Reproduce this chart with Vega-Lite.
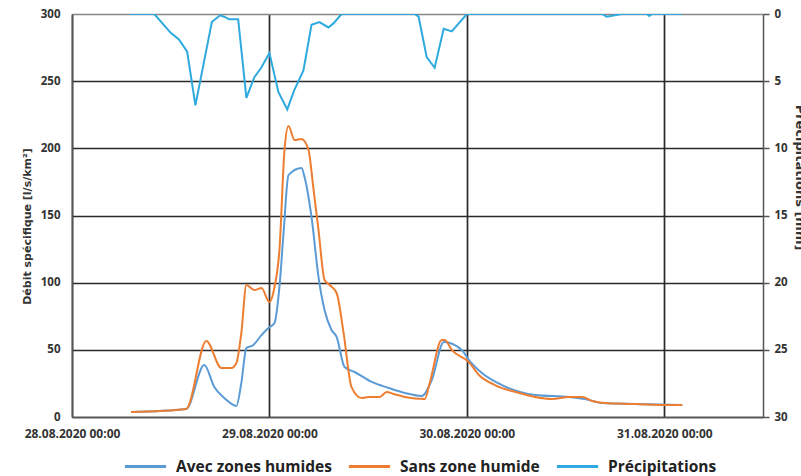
{
  "$schema": "https://vega.github.io/schema/vega-lite/v6.json",
  "autosize": {"type": "none"},
  "padding": {"left": 72, "top": 14, "right": 38, "bottom": 59},
  "width": 691,
  "height": 403,
  "config": {
    "font": "Open Sans",
    "view": {"stroke": null},
    "axis": {"labelFont": "Open Sans", "labelFontWeight": "bold", "labelColor": "#333", "titleFont": "DejaVu Sans", "titleFontWeight": "bold", "titleColor": "#333"}
  },
  "datasets": {
    "flow": [
      {"t": "2020-08-28T07:11", "v": 3.7, "s": "Avec zones humides"},
      {"t": "2020-08-28T13:53", "v": 6.0, "s": "Avec zones humides"},
      {"t": "2020-08-28T16:05", "v": 38.7, "s": "Avec zones humides"},
      {"t": "2020-08-28T17:18", "v": 22.3, "s": "Avec zones humides"},
      {"t": "2020-08-28T18:31", "v": 14.1, "s": "Avec zones humides"},
      {"t": "2020-08-28T19:59", "v": 8.2, "s": "Avec zones humides"},
      {"t": "2020-08-28T20:35", "v": 25.3, "s": "Avec zones humides"},
      {"t": "2020-08-28T21:12", "v": 51.4, "s": "Avec zones humides"},
      {"t": "2020-08-28T22:03", "v": 53.6, "s": "Avec zones humides"},
      {"t": "2020-08-28T23:02", "v": 61.0, "s": "Avec zones humides"},
      {"t": "2020-08-28T23:53", "v": 66.3, "s": "Avec zones humides"},
      {"t": "2020-08-29T00:37", "v": 70.0, "s": "Avec zones humides"},
      {"t": "2020-08-29T01:13", "v": 96.8, "s": "Avec zones humides"},
      {"t": "2020-08-29T01:43", "v": 137.0, "s": "Avec zones humides"},
      {"t": "2020-08-29T02:19", "v": 180.1, "s": "Avec zones humides"},
      {"t": "2020-08-29T03:54", "v": 185.4, "s": "Avec zones humides"},
      {"t": "2020-08-29T04:16", "v": 178.7, "s": "Avec zones humides"},
      {"t": "2020-08-29T05:07", "v": 148.9, "s": "Avec zones humides"},
      {"t": "2020-08-29T05:58", "v": 104.2, "s": "Avec zones humides"},
      {"t": "2020-08-29T06:42", "v": 79.7, "s": "Avec zones humides"},
      {"t": "2020-08-29T07:33", "v": 64.8, "s": "Avec zones humides"},
      {"t": "2020-08-29T08:10", "v": 59.6, "s": "Avec zones humides"},
      {"t": "2020-08-29T09:08", "v": 37.2, "s": "Avec zones humides"},
      {"t": "2020-08-29T10:21", "v": 33.5, "s": "Avec zones humides"},
      {"t": "2020-08-29T12:26", "v": 26.1, "s": "Avec zones humides"},
      {"t": "2020-08-29T14:30", "v": 21.6, "s": "Avec zones humides"},
      {"t": "2020-08-29T16:27", "v": 17.9, "s": "Avec zones humides"},
      {"t": "2020-08-29T18:31", "v": 15.6, "s": "Avec zones humides"},
      {"t": "2020-08-29T19:44", "v": 27.5, "s": "Avec zones humides"},
      {"t": "2020-08-29T21:12", "v": 55.8, "s": "Avec zones humides"},
      {"t": "2020-08-29T23:23", "v": 49.9, "s": "Avec zones humides"},
      {"t": "2020-08-30T00:15", "v": 42.4, "s": "Avec zones humides"},
      {"t": "2020-08-30T01:50", "v": 32.8, "s": "Avec zones humides"},
      {"t": "2020-08-30T04:16", "v": 23.8, "s": "Avec zones humides"},
      {"t": "2020-08-30T08:17", "v": 16.4, "s": "Avec zones humides"},
      {"t": "2020-08-30T12:26", "v": 14.9, "s": "Avec zones humides"},
      {"t": "2020-08-30T14:23", "v": 13.4, "s": "Avec zones humides"},
      {"t": "2020-08-30T16:27", "v": 10.4, "s": "Avec zones humides"},
      {"t": "2020-08-30T20:28", "v": 9.7, "s": "Avec zones humides"},
      {"t": "2020-08-31T02:11", "v": 8.9, "s": "Avec zones humides"},
      {"t": "2020-08-28T07:11", "v": 3.7, "s": "Sans zone humide"},
      {"t": "2020-08-28T13:53", "v": 6.0, "s": "Sans zone humide"},
      {"t": "2020-08-28T16:20", "v": 56.6, "s": "Sans zone humide"},
      {"t": "2020-08-28T18:09", "v": 36.5, "s": "Sans zone humide"},
      {"t": "2020-08-28T19:22", "v": 36.5, "s": "Sans zone humide"},
      {"t": "2020-08-28T19:59", "v": 40.2, "s": "Sans zone humide"},
      {"t": "2020-08-28T20:35", "v": 62.5, "s": "Sans zone humide"},
      {"t": "2020-08-28T21:12", "v": 98.3, "s": "Sans zone humide"},
      {"t": "2020-08-28T22:10", "v": 94.5, "s": "Sans zone humide"},
      {"t": "2020-08-28T23:02", "v": 96.0, "s": "Sans zone humide"},
      {"t": "2020-08-29T00:00", "v": 85.6, "s": "Sans zone humide"},
      {"t": "2020-08-29T00:37", "v": 96.8, "s": "Sans zone humide"},
      {"t": "2020-08-29T01:13", "v": 124.3, "s": "Sans zone humide"},
      {"t": "2020-08-29T01:50", "v": 198.8, "s": "Sans zone humide"},
      {"t": "2020-08-29T02:19", "v": 216.6, "s": "Sans zone humide"},
      {"t": "2020-08-29T03:03", "v": 206.2, "s": "Sans zone humide"},
      {"t": "2020-08-29T03:54", "v": 207.0, "s": "Sans zone humide"},
      {"t": "2020-08-29T04:45", "v": 198.8, "s": "Sans zone humide"},
      {"t": "2020-08-29T05:22", "v": 169.0, "s": "Sans zone humide"},
      {"t": "2020-08-29T05:58", "v": 139.2, "s": "Sans zone humide"},
      {"t": "2020-08-29T06:42", "v": 102.0, "s": "Sans zone humide"},
      {"t": "2020-08-29T07:19", "v": 98.3, "s": "Sans zone humide"},
      {"t": "2020-08-29T08:10", "v": 92.3, "s": "Sans zone humide"},
      {"t": "2020-08-29T09:01", "v": 62.5, "s": "Sans zone humide"},
      {"t": "2020-08-29T09:59", "v": 22.3, "s": "Sans zone humide"},
      {"t": "2020-08-29T11:13", "v": 14.1, "s": "Sans zone humide"},
      {"t": "2020-08-29T12:04", "v": 14.9, "s": "Sans zone humide"},
      {"t": "2020-08-29T13:24", "v": 14.9, "s": "Sans zone humide"},
      {"t": "2020-08-29T14:15", "v": 18.6, "s": "Sans zone humide"},
      {"t": "2020-08-29T15:06", "v": 17.1, "s": "Sans zone humide"},
      {"t": "2020-08-29T16:27", "v": 14.9, "s": "Sans zone humide"},
      {"t": "2020-08-29T18:53", "v": 13.4, "s": "Sans zone humide"},
      {"t": "2020-08-29T19:29", "v": 25.3, "s": "Sans zone humide"},
      {"t": "2020-08-29T20:57", "v": 57.3, "s": "Sans zone humide"},
      {"t": "2020-08-29T21:19", "v": 57.3, "s": "Sans zone humide"},
      {"t": "2020-08-29T22:10", "v": 49.9, "s": "Sans zone humide"},
      {"t": "2020-08-30T00:15", "v": 40.9, "s": "Sans zone humide"},
      {"t": "2020-08-30T01:28", "v": 31.3, "s": "Sans zone humide"},
      {"t": "2020-08-30T03:25", "v": 23.8, "s": "Sans zone humide"},
      {"t": "2020-08-30T06:20", "v": 17.9, "s": "Sans zone humide"},
      {"t": "2020-08-30T08:17", "v": 14.9, "s": "Sans zone humide"},
      {"t": "2020-08-30T10:22", "v": 13.4, "s": "Sans zone humide"},
      {"t": "2020-08-30T12:26", "v": 14.9, "s": "Sans zone humide"},
      {"t": "2020-08-30T14:01", "v": 14.9, "s": "Sans zone humide"},
      {"t": "2020-08-30T15:14", "v": 11.9, "s": "Sans zone humide"},
      {"t": "2020-08-30T16:49", "v": 10.4, "s": "Sans zone humide"},
      {"t": "2020-08-30T20:28", "v": 9.7, "s": "Sans zone humide"},
      {"t": "2020-08-31T00:37", "v": 8.9, "s": "Sans zone humide"},
      {"t": "2020-08-31T02:11", "v": 8.9, "s": "Sans zone humide"}
    ],
    "rain": [
      {"t": "2020-08-28T07:00", "p": 0, "s": "Précipitations"},
      {"t": "2020-08-28T10:00", "p": 0, "s": "Précipitations"},
      {"t": "2020-08-28T12:00", "p": 1.4, "s": "Précipitations"},
      {"t": "2020-08-28T13:00", "p": 1.9, "s": "Précipitations"},
      {"t": "2020-08-28T14:00", "p": 2.8, "s": "Précipitations"},
      {"t": "2020-08-28T15:00", "p": 6.8, "s": "Précipitations"},
      {"t": "2020-08-28T17:00", "p": 0.6, "s": "Précipitations"},
      {"t": "2020-08-28T18:00", "p": 0.1, "s": "Précipitations"},
      {"t": "2020-08-28T18:30", "p": 0.2, "s": "Précipitations"},
      {"t": "2020-08-28T19:06", "p": 0.4, "s": "Précipitations"},
      {"t": "2020-08-28T20:12", "p": 0.4, "s": "Précipitations"},
      {"t": "2020-08-28T21:12", "p": 6.25, "s": "Précipitations"},
      {"t": "2020-08-28T22:10", "p": 4.7, "s": "Précipitations"},
      {"t": "2020-08-28T23:00", "p": 4.0, "s": "Précipitations"},
      {"t": "2020-08-29T00:00", "p": 2.9, "s": "Précipitations"},
      {"t": "2020-08-29T01:05", "p": 5.8, "s": "Précipitations"},
      {"t": "2020-08-29T02:10", "p": 7.1, "s": "Précipitations"},
      {"t": "2020-08-29T03:00", "p": 5.7, "s": "Précipitations"},
      {"t": "2020-08-29T04:08", "p": 4.2, "s": "Précipitations"},
      {"t": "2020-08-29T05:07", "p": 0.8, "s": "Précipitations"},
      {"t": "2020-08-29T06:05", "p": 0.6, "s": "Précipitations"},
      {"t": "2020-08-29T07:10", "p": 1.0, "s": "Précipitations"},
      {"t": "2020-08-29T07:47", "p": 0.7, "s": "Précipitations"},
      {"t": "2020-08-29T08:46", "p": 0, "s": "Précipitations"},
      {"t": "2020-08-29T17:40", "p": 0, "s": "Précipitations"},
      {"t": "2020-08-29T18:08", "p": 0.2, "s": "Précipitations"},
      {"t": "2020-08-29T19:07", "p": 3.2, "s": "Précipitations"},
      {"t": "2020-08-29T20:05", "p": 4.0, "s": "Précipitations"},
      {"t": "2020-08-29T21:11", "p": 1.1, "s": "Précipitations"},
      {"t": "2020-08-29T22:10", "p": 1.3, "s": "Précipitations"},
      {"t": "2020-08-30T00:00", "p": 0, "s": "Précipitations"},
      {"t": "2020-08-30T16:26", "p": 0, "s": "Précipitations"},
      {"t": "2020-08-30T17:00", "p": 0.2, "s": "Précipitations"},
      {"t": "2020-08-30T18:00", "p": 0.1, "s": "Précipitations"},
      {"t": "2020-08-30T18:50", "p": 0, "s": "Précipitations"},
      {"t": "2020-08-30T21:55", "p": 0, "s": "Précipitations"},
      {"t": "2020-08-30T22:10", "p": 0.15, "s": "Précipitations"},
      {"t": "2020-08-30T22:30", "p": 0, "s": "Précipitations"},
      {"t": "2020-08-31T02:10", "p": 0, "s": "Précipitations"}
    ]
  },
  "layer": [
    {
      "data": {"name": "flow"},
      "mark": {"type": "line", "strokeWidth": 2, "clip": true, "interpolate": "monotone"},
      "encoding": {
        "x": {
          "field": "t", "type": "temporal",
          "scale": {"domain": [{"year": 2020, "month": 8, "date": 28, "hours": 0}, {"year": 2020, "month": 8, "date": 31, "hours": 12}]},
          "axis": {
            "title": null,
            "values": [{"year": 2020, "month": 8, "date": 28}, {"year": 2020, "month": 8, "date": 29}, {"year": 2020, "month": 8, "date": 30}, {"year": 2020, "month": 8, "date": 31}],
            "format": "%d.%m.%Y %H:%M",
            "labelFontSize": 12,
            "labelPadding": 11,
            "ticks": false,
            "grid": true, "gridColor": "#2a2a2a", "gridWidth": 1.7,
            "domainColor": "#555", "domainWidth": 1.5,
            "labelFlush": false
          }
        },
        "y": {
          "field": "v", "type": "quantitative",
          "scale": {"domain": [0, 300]},
          "axis": {
            "title": "Débit spécifique [l/s/km²]",
            "titleFontSize": 11,
            "titlePadding": 8,
            "titleY": 212,
            "values": [0, 50, 100, 150, 200, 250, 300],
            "labelFontSize": 11.5,
            "labelPadding": 12,
            "ticks": false,
            "grid": true,
            "gridColor": {"condition": {"test": "datum.value === 300", "value": "#888"}, "value": "#2a2a2a"},
            "gridWidth": 1.7,
            "domainColor": "#555", "domainWidth": 1.5
          }
        },
        "color": {
          "field": "s", "type": "nominal",
          "scale": {"domain": ["Avec zones humides", "Sans zone humide", "Précipitations"], "range": ["#5B9BD5", "#ED7D31", "#2EAADF"]},
          "legend": {
            "title": null,
            "orient": "none",
            "direction": "horizontal",
            "legendX": 51,
            "legendY": 430,
            "symbolType": "stroke",
            "symbolSize": 1700,
            "symbolStrokeWidth": 3,
            "labelFont": "Open Sans",
            "labelFontWeight": "bold",
            "labelFontSize": 15.5,
            "labelColor": "#222",
            "labelOffset": 8,
            "columnPadding": 10,
            "padding": 0
          }
        }
      }
    },
    {
      "data": {"name": "rain"},
      "mark": {"type": "line", "strokeWidth": 2, "clip": true},
      "encoding": {
        "x": {"field": "t", "type": "temporal"},
        "y": {
          "field": "p", "type": "quantitative",
          "scale": {"domain": [0, 30], "reverse": true},
          "axis": {
            "orient": "right",
            "title": "Précipitations [mm]",
            "titleFontSize": 13,
            "titlePadding": 5,
            "titleY": 163,
            "values": [0, 5, 10, 15, 20, 25, 30],
            "labelFontSize": 11.5,
            "labelPadding": 5,
            "grid": false,
            "ticks": true, "tickSize": 6, "tickColor": "#555", "tickWidth": 1.5,
            "domainColor": "#555", "domainWidth": 1.5
          }
        },
        "color": {"field": "s", "type": "nominal"}
      }
    }
  ],
  "resolve": {"scale": {"y": "independent"}}
}
